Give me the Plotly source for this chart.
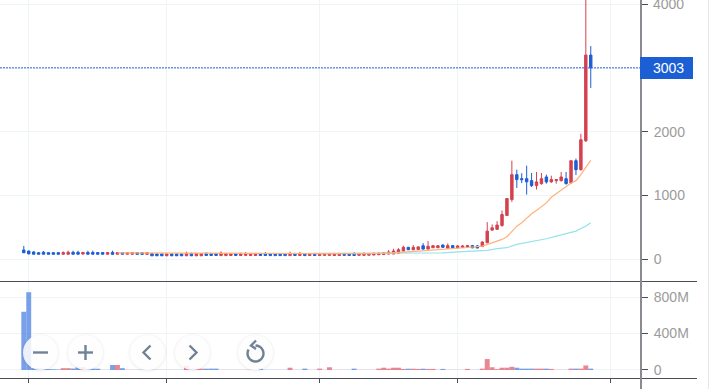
import math
import plotly.graph_objects as go

W, H = 716, 389

index = list(range(116))
opens = [146,130,115,105,112,105,105,105,80,80,
         110,110,82,108,108,106,106,80,108,80,
         106,80,80,105,105,78,90,85,85,55,
         85,85,85,55,90,55,55,95,92,92,
         58,58,60,92,60,62,60,60,92,90,
         90,88,88,90,58,92,60,88,60,92,
         60,62,62,60,60,92,90,90,62,62,
         65,68,72,75,83,83,95,130,188,150,
         155,213,160,182,182,224,175,215,180,185,
         190,215,210,200,260,458,470,531,688,937,
         1328,1265,1265,1234,1156,1187,1292,1214,1234,1234,
         1265,1198,1547,1406,1859,3203]
closes = [103,85,80,80,80,80,80,80,105,110,
          80,80,108,80,80,80,80,106,78,106,
          80,105,105,78,78,105,55,55,55,85,
          55,55,55,90,55,90,90,60,60,60,
          95,92,92,60,92,92,92,92,60,60,
          58,58,58,58,90,60,92,58,92,60,
          92,92,92,92,92,62,60,60,92,95,
          92,95,98,105,115,130,150,188,150,188,
          195,160,204,213,213,188,215,180,210,210,
          215,180,178,270,442,495,537,703,953,1328,
          1250,1250,1215,1156,1214,1265,1214,1250,1250,1292,
          1187,1547,1406,1875,3203,3003]
highs = [210,135,130,108,130,108,108,108,125,135,
         135,135,115,135,135,108,108,108,135,108,
         108,108,108,108,108,108,100,90,90,90,
         90,90,90,120,105,100,100,105,98,98,
         125,100,98,98,105,115,100,100,100,115,
         95,95,92,95,120,100,115,95,100,100,
         98,98,100,100,98,100,95,115,100,105,
         100,105,105,115,145,165,175,213,195,224,
         205,255,287,225,225,235,250,225,225,225,
         225,225,225,285,583,547,599,766,960,1547,
         1406,1350,1469,1354,1370,1354,1328,1312,1260,1370,
         1370,1547,1580,1969,4300,3344]
lows = [100,82,78,78,78,78,78,78,78,78,
        78,78,78,78,78,78,78,78,76,78,
        78,78,78,76,76,76,52,52,52,52,
        52,52,52,52,52,52,52,55,55,55,
        55,55,55,55,55,58,55,55,55,55,
        52,52,52,52,52,55,55,52,55,55,
        55,55,55,55,55,55,55,55,58,58,
        62,64,70,72,80,80,92,125,145,147,
        150,155,155,178,178,180,170,175,175,180,
        185,175,172,195,255,450,465,510,680,901,
        1120,1195,1015,1135,1094,1170,1187,1200,1187,1220,
        1172,1190,1320,1390,1840,2688]
volume_m = [640,855,22,18,14,10,8,6,20,20,
            16,30,30,14,14,14,2,2,55,55,
            20,2,2,2,2,2,2,2,2,2,
            2,2,2,45,15,14,14,14,15,15,
            2,2,2,2,2,2,2,2,15,2,
            2,2,2,2,25,2,2,15,2,2,
            15,2,30,2,2,2,2,15,2,2,
            2,2,15,25,15,25,25,12,14,14,
            12,14,12,12,2,12,2,2,2,2,
            12,2,2,15,120,30,10,25,25,35,
            25,15,15,15,15,15,15,12,2,2,
            2,15,15,15,50,15]
ma20_idx = [19,30,45,60,70,75,80,84,88,90,93,94,95,96,97,98,99,100,101,102,103,104,105,106,107,108,109,110,111,112,113,114,115]
ma20_val = [100,95,90,90,90,100,130,150,165,185,208,234,250,276,312,354,442,520,573,651,714,766,833,885,973,1031,1094,1146,1198,1234,1328,1442,1552]
ma60_idx = [59,70,78,85,88,91,93,94,96,98,100,102,104,106,108,110,112,113,114,115]
ma60_val = [95,95,98,100,118,130,130,140,167,182,234,260,286,323,365,401,442,484,520,573]
x_ticks = [1,29,60,88,119]
price_ticks = [0,1000,2000,3000,4000]
price_labels = ["0","1000","2000","","4000"]
volume_ticks = [0,400,800]
volume_labels = ["0","400M","800M"]
last_price = 3003

RED, BLUE = "#d5404f", "#1c5fd4"
GRID = "#eff4f7"
ICON = "#6f8296"
TICK_FONT = dict(family="Liberation Sans, Arial, sans-serif", size=14, color="#9b9b9b")

def px(x): return x / W
def py(y): return 1 - y / H

vol_colors = ["rgba(226,104,118,0.8)" if c >= o else "rgba(88,136,226,0.8)" for o, c in zip(opens, closes)]

fig = go.Figure()
fig.add_trace(go.Scatter(x=ma60_idx, y=ma60_val, mode="lines", line=dict(color="#96e3ea", width=1.2), hoverinfo="skip"))
fig.add_trace(go.Scatter(x=ma20_idx, y=ma20_val, mode="lines", line=dict(color="#fdb27e", width=1.2), hoverinfo="skip"))
fig.add_trace(go.Candlestick(
    x=index, open=opens, high=highs, low=lows, close=closes, whiskerwidth=0,
    increasing=dict(line=dict(color=RED, width=1), fillcolor=RED),
    decreasing=dict(line=dict(color=BLUE, width=1), fillcolor=BLUE),
))
fig.add_trace(go.Bar(x=index, y=volume_m, marker=dict(color=vol_colors, line=dict(width=0)), width=1, xaxis="x2", yaxis="y2"))

x_range = [-23.8 / 4.93, (641 - 23.8) / 4.93]
common_x = dict(range=x_range, tickvals=x_ticks, showgrid=True, gridcolor=GRID, gridwidth=1, zeroline=False,
                showline=False, showticklabels=False, domain=[0, px(641)], rangeslider=dict(visible=False))

shapes = []
for y in (281.5, 378.5):
    shapes.append(dict(type="line", xref="paper", yref="paper", x0=0, x1=px(697), y0=py(y), y1=py(y), line=dict(color="#4d4d57", width=1)))
shapes.append(dict(type="line", xref="paper", yref="paper", x0=px(641), x1=px(641), y0=0, y1=1, line=dict(color="#8a8a90", width=2)))
shapes.append(dict(type="line", xref="paper", yref="paper", x0=px(708.5), x1=px(708.5), y0=0, y1=1, line=dict(color="#e6e6e6", width=1)))
shapes.append(dict(type="line", xref="paper", yref="y", x0=0, x1=px(641), y0=last_price, y1=last_price, line=dict(color="#2b66d6", width=1, dash="2px,1px")))
shapes.append(dict(type="rect", xref="paper", yref="paper", x0=px(640), x1=px(693), y0=py(79), y1=py(57), fillcolor=BLUE, line=dict(width=0)))

def circle(cx, cy, r, **kw):
    return dict(type="circle", xref="paper", yref="paper", x0=px(cx - r), x1=px(cx + r), y0=py(cy + r), y1=py(cy - r), **kw)

def poly(points, color=ICON, width=2.4):
    d = "M " + " L ".join(f"{px(a):.5f},{py(b):.5f}" for a, b in points)
    return dict(type="path", xref="paper", yref="paper", path=d, line=dict(color=color, width=width))

centers = [40.5, 85.5, 147.5, 192.5, 255.5]
CY = 352.5
for c in centers:
    for r, a in ((20, 0.012), (19, 0.015), (18.2, 0.02)):
        shapes.append(circle(c, CY + 0.5, r, fillcolor=f"rgba(0,0,0,{a})", line=dict(width=0)))
    shapes.append(circle(c, CY, 17.5, fillcolor="rgba(255,255,255,0.86)", line=dict(width=0)))

shapes.append(poly([(33, CY), (48, CY)]))
shapes.append(poly([(78, CY), (93, CY)]))
shapes.append(poly([(85.5, CY - 7.5), (85.5, CY + 7.5)]))
shapes.append(poly([(150.5, CY - 7), (143.5, CY), (150.5, CY + 7)]))
shapes.append(poly([(189.5, CY - 7), (196.5, CY), (189.5, CY + 7)]))
arc = [(255.5 + 8 * math.cos(math.radians(a)), 353.5 + 8 * math.sin(math.radians(a))) for a in range(-90, 225, 15)]
shapes.append(poly(arc))
shapes.append(poly([(256, 340.5), (251, 345.5), (256, 349)]))

fig.update_layout(
    width=W, height=H, margin=dict(l=0, r=0, t=0, b=0), autosize=False,
    paper_bgcolor="white", plot_bgcolor="white", showlegend=False, dragmode=False,
    xaxis={**common_x, "anchor": "y", "ticks": ""},
    xaxis2={**common_x, "anchor": "y2", "matches": "x", "ticks": "outside", "ticklen": 4, "tickcolor": "#4d4d57", "tickwidth": 1},
    yaxis=dict(domain=[py(281), 1], range=[-340, 4067], side="right", anchor="x", tickvals=price_ticks, ticktext=price_labels,
               ticks="outside", ticklen=6, tickcolor="#4d4d57", tickfont=TICK_FONT, ticklabelstandoff=3,
               showgrid=True, gridcolor=GRID, zeroline=False, showline=False),
    yaxis2=dict(domain=[py(378), py(282)], range=[-88, 967], side="right", anchor="x2", tickvals=volume_ticks, ticktext=volume_labels,
                ticks="outside", ticklen=6, tickcolor="#4d4d57", tickfont=TICK_FONT, ticklabelstandoff=3,
                showgrid=True, gridcolor=GRID, zeroline=False, showline=False),
    shapes=shapes,
    annotations=[
        dict(text=str(last_price), xref="paper", yref="paper", x=px(651), y=py(68), xanchor="left", yanchor="middle",
             showarrow=False, font=dict(family=TICK_FONT["family"], size=14, color="white")),
        dict(text="4000", xref="paper", yref="y", x=px(651), y=4000, xanchor="left", yanchor="middle",
             showarrow=False, font=TICK_FONT),
    ],
)

fig.write_html("out.html", config=dict(displayModeBar=False),
               post_script="document.body.style.margin='0';document.body.style.overflow='hidden';")
